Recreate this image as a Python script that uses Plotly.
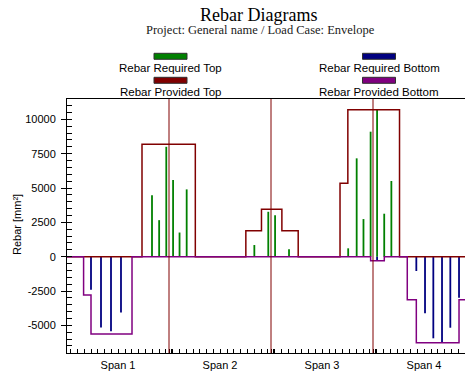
import plotly.graph_objects as go

# ---------------- data ----------------
span_labels = ["Span 1", "Span 2", "Span 3", "Span 4"]
span_length = 15.0
span_boundaries = [15.0, 30.0, 45.0]
span_centers = [7.5, 22.5, 37.5, 52.5]

# required top reinforcement (stations, mm2)
req_top_x = [12.5, 13.55, 14.6, 15.6, 16.55, 17.6,
             27.55, 29.6, 30.6, 32.65,
             41.35, 42.6, 43.6, 44.65, 45.6, 46.65, 47.7]
req_top_y = [4480, 2660, 8000, 5580, 1760, 4900,
             850, 3270, 3020, 540,
             610, 7160, 2740, 9100, 10680, 3130, 5510]

# required bottom reinforcement
req_bot_x = [3.53, 5.0, 6.47, 7.94,
             45.6,
             51.37, 52.65, 53.87, 55.15, 56.37, 57.65]
req_bot_y = [-2400, -5150, -5430, -4060,
             -250,
             -1040, -4120, -5940, -6230, -5170, -2980]

# provided top (step breakpoints)
prov_top_x = [0, 11.03, 18.87, 26.3, 28.6, 31.6, 34.0, 40.15, 41.3, 48.9, 60]
prov_top_y = [0, 8180, 0, 1890, 3450, 1890, 0, 5340, 10700, 0, 0]

# provided bottom (step breakpoints)
prov_bot_x = [0, 2.44, 3.53, 9.56, 44.65, 46.66, 50.04, 51.37, 57.65, 58.72, 60]
prov_bot_y = [0, -2790, -5630, 0, -290, 0, -3130, -6260, -3130, 0, 0]

y_tick_vals = [-5000, -2500, 0, 2500, 5000, 7500, 10000]
x_station_ticks = [0.55 + k for k in range(60)] + [15.0, 15.3, 30.0, 30.3, 45.0, 45.3]

names = ["Rebar Required Top", "Rebar Required Bottom",
         "Rebar Provided Top", "Rebar Provided Bottom"]
colors = ["#008000", "#000080", "#800000", "#800080"]

FONT = "Liberation Sans, Arial, sans-serif"
SERIF = "Liberation Serif, Times New Roman, serif"

# page body has an 8px margin: figure is shifted accordingly
OFF = 8
W, H = 473 - OFF, 373 - OFF
L, T, R, B = 67 - OFF, 99 - OFF, 473 - OFF, 353 - OFF


def px_x(px):
    return (px - OFF - L) / (R - L)


def px_y(py):
    return (B - (py - OFF)) / (B - T)


def segs(xs, ys):
    sx, sy = [], []
    for x, y in zip(xs, ys):
        sx += [x, x, None]
        sy += [0, y, None]
    return sx, sy


fig = go.Figure()

sx, sy = segs(req_top_x, req_top_y)
fig.add_trace(go.Scatter(x=sx, y=sy, mode="lines", name=names[0],
                         line=dict(color=colors[0], width=1.8), showlegend=False))
sx, sy = segs(req_bot_x, req_bot_y)
fig.add_trace(go.Scatter(x=sx, y=sy, mode="lines", name=names[1],
                         line=dict(color=colors[1], width=1.8), showlegend=False))
fig.add_trace(go.Scatter(x=prov_top_x, y=prov_top_y, mode="lines", name=names[2],
                         line=dict(color=colors[2], width=1.5, shape="hv"), showlegend=False))
fig.add_trace(go.Scatter(x=prov_bot_x, y=prov_bot_y, mode="lines", name=names[3],
                         line=dict(color=colors[3], width=1.5, shape="hv"), showlegend=False))

# dummy trace for overlay tick axes
fig.add_trace(go.Scatter(x=[None], y=[None], xaxis="x2", yaxis="y2",
                         showlegend=False, hoverinfo="skip"))

for b in span_boundaries:
    fig.add_vline(x=b, line_color="#800000", line_width=1)

xr = [0, (R - L) / 6.8]
yr = [-7010, 11480]

fig.update_layout(
    width=W, height=H,
    margin=dict(l=L, r=W - R, t=T, b=H - B),
    paper_bgcolor="white", plot_bgcolor="white",
    showlegend=False,
    font=dict(family=FONT, size=11, color="black"),
    xaxis=dict(range=xr, tickvals=span_centers, ticktext=span_labels,
               ticks="", showgrid=False, zeroline=False,
               showline=True, linecolor="black", linewidth=1, mirror=True,
               tickfont=dict(family=FONT, size=11, color="black"),
               ticklabelstandoff=2),
    yaxis=dict(range=yr, tickvals=y_tick_vals, ticktext=[str(v) for v in y_tick_vals],
               ticks="outside", ticklen=5, tickcolor="black",
               showgrid=False, zeroline=False,
               showline=True, linecolor="black", linewidth=1,
               tickfont=dict(family=FONT, size=11, color="black"),
               ticklabelstandoff=3),
    xaxis2=dict(range=xr, overlaying="x", anchor="y2", side="bottom",
                tickmode="array", tickvals=x_station_ticks, ticks="inside",
                ticklen=4, tickcolor="black", showticklabels=False,
                showgrid=False, zeroline=False, showline=False),
    yaxis2=dict(range=yr, overlaying="y", anchor="x2", side="left",
                tick0=0, dtick=500, ticks="inside", ticklen=5, tickcolor="black",
                showticklabels=False, showgrid=False, zeroline=False, showline=False),
)

anns = []
anns.append(dict(text="Rebar Diagrams", x=px_x(258), y=px_y(15), xref="paper", yref="paper",
                 showarrow=False, xanchor="center", yanchor="middle",
                 font=dict(family=SERIF, size=18, color="black")))
anns.append(dict(text="Project: General name / Load Case: Envelope", x=px_x(260), y=px_y(30),
                 xref="paper", yref="paper", showarrow=False, xanchor="center", yanchor="middle",
                 font=dict(family=SERIF, size=12.5, color="#202020")))
anns.append(dict(text="Rebar [mm²]", x=px_x(17), y=px_y(225), xref="paper", yref="paper",
                 showarrow=False, xanchor="center", yanchor="middle", textangle=-90,
                 font=dict(family=FONT, size=11, color="black")))

# custom legend: swatch above label, two columns
legend_pos = [(170.5, 53.3, 68.3), (379, 53.3, 68.3), (170.5, 77.3, 91.7), (379, 77.3, 91.7)]
shapes = []
for name, col, (cx, ry, ty) in zip(names, colors, legend_pos):
    shapes.append(dict(type="rect", xref="paper", yref="paper",
                       x0=px_x(cx - 16.5), x1=px_x(cx + 16.5), y0=px_y(ry), y1=px_y(ry + 6),
                       fillcolor=col, line=dict(color="#303030", width=1)))
    anns.append(dict(text=name, x=px_x(cx), y=px_y(ty), xref="paper", yref="paper",
                     showarrow=False, xanchor="center", yanchor="middle",
                     font=dict(family=FONT, size=11.5, color="black")))

fig.update_layout(annotations=anns)
for s in shapes:
    fig.add_shape(**s)

fig.write_html("out.html")
